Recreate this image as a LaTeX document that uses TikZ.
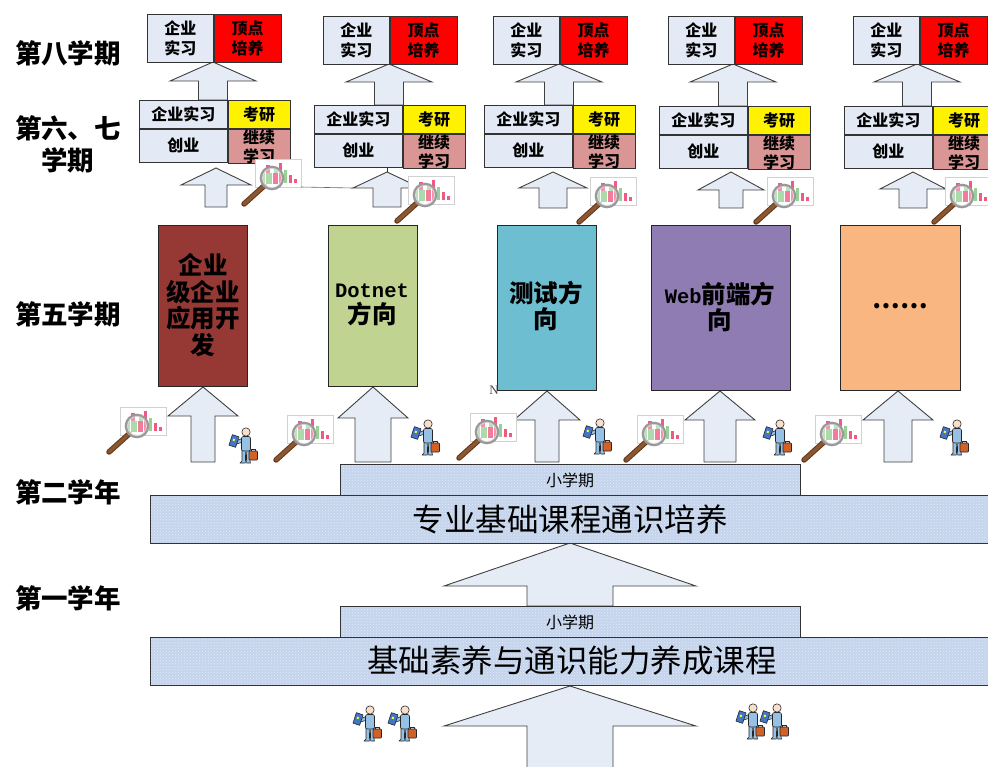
\documentclass[tikz,border=0pt]{standalone}
\usepackage{fontspec}
\setmainfont{Liberation Serif}
\newfontfamily\cjk{Noto Sans CJK SC}
\newfontfamily\monof{Liberation Mono}
\usetikzlibrary{patterns}

\definecolor{boxfill}{RGB}{227,234,245}
\definecolor{arrowfill}{RGB}{229,236,246}
\definecolor{rosefill}{RGB}{217,150,148}
\definecolor{barfill}{RGB}{196,212,236}
\definecolor{bardot}{RGB}{226,234,247}
\definecolor{dirA}{RGB}{150,57,52}
\definecolor{dirB}{RGB}{192,211,145}
\definecolor{dirC}{RGB}{110,190,210}
\definecolor{dirD}{RGB}{143,124,178}
\definecolor{dirE}{RGB}{249,182,128}
\definecolor{personblue}{RGB}{150,192,228}
\definecolor{tabletblue}{RGB}{66,118,200}
\definecolor{caseorange}{RGB}{208,98,40}
\definecolor{skin}{RGB}{248,222,204}
\definecolor{handlebrown}{RGB}{140,86,46}
\definecolor{handledark}{RGB}{95,55,28}
\definecolor{bargreen}{RGB}{150,210,150}
\definecolor{barpink}{RGB}{240,90,130}

% up-pointing block arrow: centre x, tip y, head base y, half head width, half shaft width, bottom y
\newcommand{\blockup}[6]{%
  \draw[blockarrow] (#1,#2) -- ({#1+#4},#3) -- ({#1+#5},#3) -- ({#1+#5},#6)
    -- ({#1-#5},#6) -- ({#1-#5},#3) -- ({#1-#4},#3) -- cycle;}

\tikzset{
  blockarrow/.style={fill=arrowfill, draw=black!75, line width=0.9pt, line join=miter},
  cell/.style={draw=black!80, line width=0.8pt, inner sep=0pt, anchor=north west,
    align=center, font=\cjk\bfseries\fontsize{16}{20}\selectfont},
  dirbox/.style={draw=black!85, line width=0.8pt, inner sep=0pt, anchor=north west},
  dirtext/.style={align=center, font=\cjk\bfseries\fontsize{24.5}{26.5}\selectfont},
  termlabel/.style={align=center, font=\cjk\bfseries\fontsize{26.5}{32}\selectfont},
  bar/.style={draw=black!80, line width=0.8pt, inner sep=0pt, anchor=north west,
    preaction={fill=barfill}, preaction={pattern=crosshatch dots, pattern color=bardot}},
  pout/.style={draw=black!85, line width=0.6pt, line join=round},
  person/.pic={
    % arm reaching to the tablet
    \draw[pout, fill=personblue] (-3,6) -- (-10,9) -- (-9.5,12) -- (-3,10) -- cycle;
    % tablet
    \draw[pout, fill=tabletblue, rotate around={-18:(-12,9)}] (-15.5,3.5) rectangle (-8.5,14.5);
    \fill[yellow!80, rotate around={-18:(-12,9)}] (-13.5,7) rectangle (-11.5,9);
    % legs and torso
    \draw[pout, fill=personblue] (-4,17) -- (-4,29) -- (-6,31) -- (-0.6,31) -- (-0.4,20)
      -- (0.4,20) -- (0.6,31) -- (4.5,31) -- (4,29) -- (4,17) -- cycle;
    \draw[pout, fill=personblue, rounded corners=2] (-4.5,4.5) rectangle (4.5,19);
    % briefcase
    \draw[pout, fill=caseorange, rounded corners=0.8] (3,19) rectangle (11.5,28);
    \draw[pout] (5.5,19) -- (5.5,17.5) -- (9,17.5) -- (9,19);
    % head
    \draw[pout, fill=skin] (0,0) circle (4.2);
  },
  magnifier/.pic={
    % chart card
    \fill[white] (0,0) rectangle (46,28);
    \draw[black!18, line width=0.5pt] (0,0) rectangle (46,28);
    \fill[bargreen] (6,13) rectangle (10,24);
    \fill[barpink] (11,6) rectangle (15,24);
    \fill[bargreen] (19,9) rectangle (23,24);
    \fill[barpink] (24,4) rectangle (27,24);
    \fill[bargreen] (29,11) rectangle (32,24);
    \fill[barpink] (34,16) rectangle (37,24);
    \fill[barpink] (39,20) rectangle (42,24);
    % handle
    \draw[handledark, line width=5.5pt, line cap=round] (9,27) -- (-11,45);
    \draw[handlebrown, line width=3.5pt, line cap=round] (9,27) -- (-11,45);
    % lens
    \fill[white, opacity=0.35] (17,19) circle (11);
    \fill[bargreen!80] (11,14) rectangle (16.5,25);
    \fill[barpink!80] (17.5,14) rectangle (23,25);
    \draw[black!40, line width=2.6pt] (17,19) circle (11);
    \draw[black!15, line width=0.8pt] (17,19) circle (9.6);
  }
}

\begin{document}
\begin{tikzpicture}[x=1pt, y=-1pt]
\useasboundingbox (0,0) rectangle (988,767);

% ---- block arrows ----
\blockup{213}{62}{81}{43}{14.5}{100}
\blockup{389}{64}{82}{43}{14.5}{105}
\blockup{559}{64}{82}{43}{14.5}{105}
\blockup{733}{64}{82}{43}{14.5}{106}
\blockup{917}{64}{82}{43}{14.5}{106}

\blockup{216}{168}{185}{35}{11}{207}
\blockup{387}{172}{188}{34}{14}{207}
\blockup{553}{172}{188}{34}{14}{208}
\blockup{731}{172}{190}{33}{12}{208}
\blockup{913}{172}{189}{33}{14}{208}

\blockup{203}{387}{416}{35}{12}{462}
\blockup{373}{387}{418}{35}{18}{462}
\blockup{547}{391}{420}{33}{12}{462}
\blockup{720}{391}{420}{35}{16}{462}
\blockup{898}{391}{420}{35}{14}{462}

\blockup{570}{543}{586}{126}{43}{606}
\blockup{570}{686}{726}{126}{43}{780}

% ---- term labels ----
\node[termlabel] (lab8) at (68,53) {第八学期};
\node[termlabel] (lab67) at (68,144) {第六、七\\学期};
\node[termlabel] (lab5) at (68,314) {第五学期};
\node[termlabel] (lab2) at (68,492) {第二学年};
\node[termlabel] (lab1) at (68,598) {第一学年};

% ---- senior-year option boxes ----
\foreach \i/\tx/\ty/\mx/\my in {1/147/14/139/100, 2/323/16/314/105, 3/493/16/484/105,
                                  4/668/16/659/106, 5/853/16/844/106} {
  \node[cell, fill=boxfill, minimum width=66pt, minimum height=48pt] (t\i-a) at (\tx,\ty) {企业\\实习};
  \node[cell, fill=red, minimum width=67pt, minimum height=48pt] (t\i-b) at (t\i-a.north east) {顶点\\培养};
  \node[cell, fill=boxfill, minimum width=88pt, minimum height=28pt] (m\i-a) at (\mx,\my) {企业实习};
  \node[cell, fill=yellow, minimum width=62pt, minimum height=28pt] (m\i-b) at (m\i-a.north east) {考研};
  \node[cell, fill=boxfill, minimum width=88pt, minimum height=33pt] (m\i-c) at (m\i-a.south west) {创业};
  \node[cell, fill=rosefill, minimum width=62pt, minimum height=33pt,
        font=\cjk\bfseries\fontsize{16}{19}\selectfont] (m\i-d) at (m\i-c.north east) {继续\\学习};
}

% ---- fifth-term direction boxes ----
\node[dirbox, fill=dirA, minimum width=89pt, minimum height=161pt] (d1) at (158,225) {};
\node[dirbox, fill=dirB, minimum width=89pt, minimum height=161pt] (d2) at (328,225) {};
\node[dirbox, fill=dirC, minimum width=99pt, minimum height=165pt] (d3) at (497,225) {};
\node[dirbox, fill=dirD, minimum width=139pt, minimum height=165pt] (d4) at (651,225) {};
\node[dirbox, fill=dirE, minimum width=120pt, minimum height=165pt] (d5) at (840,225) {};
\node[dirtext] (d1t) at (203,305) {企业\\级企业\\应用开\\发};
\node[dirtext] (d2t) at (372,305) {{\monof\bfseries\fontsize{20.5}{26.5}\selectfont Dotnet}\\方向};
\node[dirtext] (d3t) at (546,306) {测试方\\向};
\node[dirtext] (d4t) at (720,307) {{\monof\bfseries\fontsize{20.5}{26.5}\selectfont Web}前端方\\向};
\node[dirtext] (d5t) at (900,306) {……};
\node[font=\fontsize{13}{13}\selectfont, text=black!70] (nmark) at (494,390) {N};

% ---- course bars ----
\node[bar, minimum width=460pt, minimum height=31pt] (sb2) at (340,464) {};
\node[bar, minimum width=840pt, minimum height=48pt] (core2) at (150,495) {};
\node[bar, minimum width=460pt, minimum height=31pt] (sb1) at (340,606) {};
\node[bar, minimum width=840pt, minimum height=48pt] (core1) at (150,637) {};
\node[font=\cjk\fontsize{16}{16}\selectfont] (sb2t) at (570,480) {小学期};
\node[font=\cjk\fontsize{31.5}{31.5}\selectfont] (core2t) at (570,519) {专业基础课程通识培养};
\node[font=\cjk\fontsize{16}{16}\selectfont] (sb1t) at (570,622) {小学期};
\node[font=\cjk\fontsize{31.5}{31.5}\selectfont] (core1t) at (572,661) {基础素养与通识能力养成课程};

% ---- short connectors ----
\coordinate (a2tip) at (387,172);
\draw[black!80, line width=0.8pt] (a2tip) -- (a2tip |- m2-c.south);

% ---- chart magnifiers ----
\pic (g1) at (255,159) {magnifier};
\pic (g2) at (408,176) {magnifier};
\pic (g3) at (590,177) {magnifier};
\pic (g4) at (767,177) {magnifier};
\pic (g5) at (945,177) {magnifier};
\coordinate (g1edge) at (301,187);
\coordinate (a2base) at (353,188);
\draw[black!60, line width=0.6pt] (g1edge) -- (a2base);

\pic (h1) at (120,407) {magnifier};
\pic (h2) at (287,415) {magnifier};
\pic (h3) at (470,413) {magnifier};
\pic (h4) at (637,415) {magnifier};
\pic (h5) at (815,415) {magnifier};

% ---- students ----
\pic (p1) at (246,432) {person};
\pic (p2) at (428,424) {person};
\pic (p3) at (600,423) {person};
\pic (p4) at (780,424) {person};
\pic (p5) at (957,424) {person};
\pic (q1) at (370,710) {person};
\pic (q2) at (405,710) {person};
\pic (q3) at (753,708) {person};
\pic (q4) at (777,708) {person};
\end{tikzpicture}
\end{document}
